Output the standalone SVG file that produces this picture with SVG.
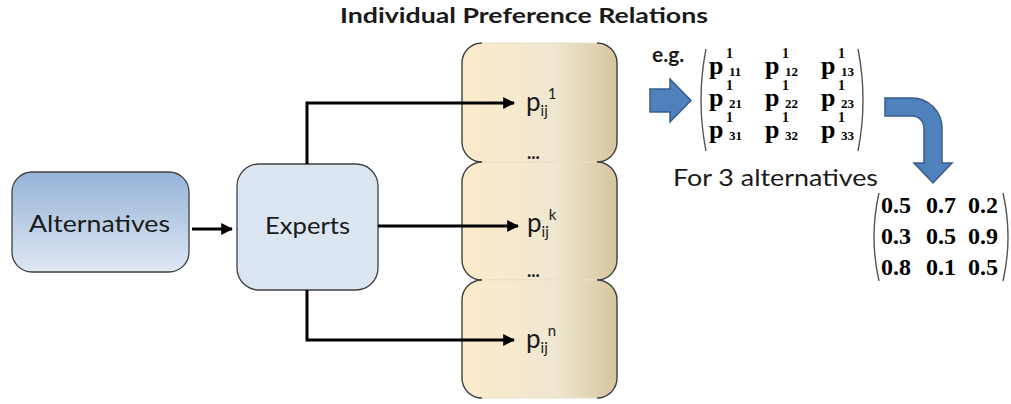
<svg xmlns="http://www.w3.org/2000/svg" width="1011" height="404" viewBox="0 0 1011 404">
  <defs>
    <linearGradient id="altFill" x1="0" y1="0" x2="0" y2="1">
      <stop offset="0" stop-color="#95B3D7"/>
      <stop offset="1" stop-color="#DFE8F3"/>
    </linearGradient>
    <linearGradient id="relFill" x1="0" y1="0" x2="1" y2="0">
      <stop offset="0" stop-color="#FDEBCB"/>
      <stop offset="0.6" stop-color="#EFE7D0"/>
      <stop offset="1" stop-color="#D6C69E"/>
    </linearGradient>
    <marker id="arrow" viewBox="0 0 10 10" refX="9" refY="5" markerWidth="4" markerHeight="4" orient="auto" markerUnits="strokeWidth">
      <path d="M0,0 L10,5 L0,10 Z" fill="#000"/>
    </marker>
  </defs>
  <style>
    .box { stroke: #404040; stroke-width: 1.3; }
    .side { fill: none; stroke: #404040; stroke-width: 1.4; }
    .edge { fill: none; stroke: #E9DFC6; stroke-width: 1; }
    .lbl { font-family: Lato, "Open Sans", sans-serif; fill: #1a1a1a; }
    .mat { font-family: "Liberation Serif", serif; font-weight: bold; fill: #000; }
    .mp { font-size: 26px; }
    .sup { font-size: 14px; }
    .sub { font-size: 13px; }
    .conn { fill: none; stroke: #000; stroke-width: 3; marker-end: url(#arrow); }
    .paren { fill: none; stroke: #555; stroke-width: 1.4; }
    .blue { fill: #4F81BD; stroke: #385D8A; stroke-width: 1.5; }
  </style>

  <rect width="1011" height="404" fill="#fff"/>

  <!-- title -->
  <text class="lbl" x="340" y="23" font-size="21" font-weight="bold" textLength="368" lengthAdjust="spacingAndGlyphs" fill="#000">Individual Preference Relations</text>

  <!-- stacked preference relation boxes -->
  <g id="relations">
    <g id="rel-1">
      <rect x="462" y="43" width="155" height="119" rx="20" fill="url(#relFill)" stroke="none"/>
      <path class="edge" d="M482,43 H597 M482,162 H597"/>
      <path class="side" d="M482,43 A20,20 0 0 0 462,63 V142 A20,20 0 0 0 482,162 M597,43 A20,20 0 0 1 617,63 V142 A20,20 0 0 1 597,162"/>
    </g>
    <g id="rel-k">
      <rect x="462" y="162" width="155" height="118" rx="20" fill="url(#relFill)" stroke="none"/>
      <path class="edge" d="M482,162 H597 M482,280 H597"/>
      <path class="side" d="M482,162 A20,20 0 0 0 462,182 V260 A20,20 0 0 0 482,280 M597,162 A20,20 0 0 1 617,182 V260 A20,20 0 0 1 597,280"/>
    </g>
    <g id="rel-n">
      <rect x="462" y="280" width="155" height="118" rx="20" fill="url(#relFill)" stroke="none"/>
      <path class="edge" d="M482,280 H597 M482,398 H597"/>
      <path class="side" d="M482,280 A20,20 0 0 0 462,300 V378 A20,20 0 0 0 482,398 M597,280 A20,20 0 0 1 617,300 V378 A20,20 0 0 1 597,398"/>
    </g>
    <text class="lbl" x="526" y="111" font-size="26">p<tspan font-size="15" dy="5">ij</tspan><tspan font-size="15" dy="-17">1</tspan></text>
    <text class="lbl" x="527" y="159" font-size="18" font-weight="bold">...</text>
    <text class="lbl" x="527" y="232" font-size="26">p<tspan font-size="15" dy="5">ij</tspan><tspan font-size="15" dy="-17">k</tspan></text>
    <text class="lbl" x="527" y="277" font-size="18" font-weight="bold">...</text>
    <text class="lbl" x="526" y="348" font-size="26">p<tspan font-size="15" dy="5">ij</tspan><tspan font-size="15" dy="-17">n</tspan></text>
  </g>

  <!-- alternatives -->
  <g id="alternatives">
    <rect class="box" x="12" y="172" width="177" height="100" rx="20" fill="url(#altFill)"/>
    <text class="lbl" x="29" y="232" font-size="23" textLength="141" lengthAdjust="spacingAndGlyphs">Alternatives</text>
  </g>

  <!-- experts -->
  <g id="experts">
    <rect class="box" x="237" y="164" width="141" height="126" rx="22" fill="#DCE6F2"/>
    <text class="lbl" x="265" y="234" font-size="23" textLength="85" lengthAdjust="spacingAndGlyphs">Experts</text>
  </g>

  <!-- connectors -->
  <g id="connectors">
    <path class="conn" d="M192,229 H232"/>
    <path class="conn" d="M307,164 V103 H514"/>
    <path class="conn" d="M378,226 H518"/>
    <path class="conn" d="M307,290 V340 H514"/>
  </g>

  <!-- example matrix of one expert -->
  <g id="example">
    <text class="lbl" x="652" y="62" font-size="21" font-weight="bold" fill="#000">e.g.</text>
    <path class="blue" d="M650,89 H670 V79 L691,100.5 L670,122 V112 H650 Z"/>
    <path class="paren" d="M706,49 Q696,100 706,151"/>
    <path class="paren" d="M858,49 Q868,100 858,151"/>
    <g class="mat">
      <!-- row 1 -->
      <text class="mp" x="709" y="74">p</text><text class="sup" x="726" y="58">1</text><text class="sub" x="729" y="76">11</text>
      <text class="mp" x="765" y="74">p</text><text class="sup" x="782" y="58">1</text><text class="sub" x="785" y="76">12</text>
      <text class="mp" x="821" y="74">p</text><text class="sup" x="838" y="58">1</text><text class="sub" x="841" y="76">13</text>
      <!-- row 2 -->
      <text class="mp" x="709" y="106">p</text><text class="sup" x="726" y="90">1</text><text class="sub" x="729" y="108">21</text>
      <text class="mp" x="765" y="106">p</text><text class="sup" x="782" y="90">1</text><text class="sub" x="785" y="108">22</text>
      <text class="mp" x="821" y="106">p</text><text class="sup" x="838" y="90">1</text><text class="sub" x="841" y="108">23</text>
      <!-- row 3 -->
      <text class="mp" x="709" y="138">p</text><text class="sup" x="726" y="122">1</text><text class="sub" x="729" y="140">31</text>
      <text class="mp" x="765" y="138">p</text><text class="sup" x="782" y="122">1</text><text class="sub" x="785" y="140">32</text>
      <text class="mp" x="821" y="138">p</text><text class="sup" x="838" y="122">1</text><text class="sub" x="841" y="140">33</text>
    </g>
    <text class="lbl" x="673" y="186" font-size="24" textLength="205" lengthAdjust="spacingAndGlyphs">For 3 alternatives</text>
  </g>

  <!-- numeric matrix -->
  <g id="numeric">
    <path class="blue" d="M885,98 H912 A30,30 0 0 1 942,128 V163 H952 L933,183 L914,163 H924 V128 A12,12 0 0 0 912,116 H885 Z"/>
    <path class="paren" d="M879,193 Q869,237 879,281"/>
    <path class="paren" d="M1003,193 Q1013,237 1003,281"/>
    <g class="mat" font-size="24">
      <text x="881" y="213">0.5</text>
      <text x="926" y="213">0.7</text>
      <text x="968" y="213">0.2</text>
      <text x="881" y="244">0.3</text>
      <text x="926" y="244">0.5</text>
      <text x="968" y="244">0.9</text>
      <text x="881" y="275">0.8</text>
      <text x="926" y="275">0.1</text>
      <text x="968" y="275">0.5</text>
    </g>
  </g>
</svg>
